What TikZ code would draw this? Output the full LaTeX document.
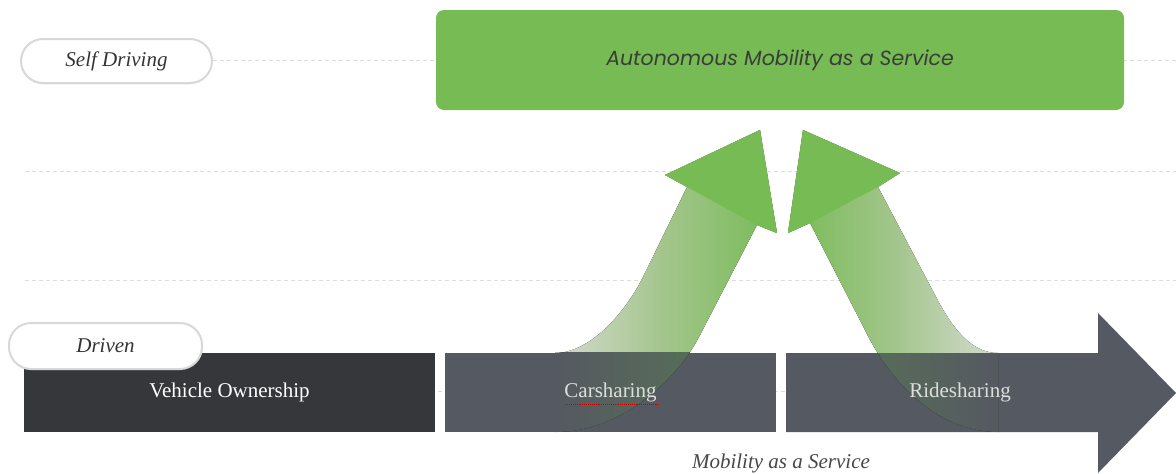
\documentclass[tikz,border=0pt]{standalone}
\usepackage{fontspec}
\setmainfont{Liberation Serif}
\newfontfamily\geofont{Poppins}
\usetikzlibrary{shadows}
\definecolor{ownc}{HTML}{35373B}
\definecolor{sharec}{HTML}{555961}
\definecolor{amgreen}{HTML}{77BB55}
\definecolor{fadegreen}{HTML}{D4DACE}
\definecolor{midgreen}{HTML}{A2C58B}
\definecolor{inbarmid}{HTML}{57695A}
\definecolor{inbargreen}{HTML}{4D7A43}
\definecolor{pillline}{HTML}{D8D8D8}
\definecolor{gridc}{HTML}{DDDDDD}
\definecolor{labc}{HTML}{333333}
\definecolor{amtext}{HTML}{3A3D38}
\definecolor{sharetext}{HTML}{DCDFDC}
\newcommand\armLpath{(555,353) .. controls (590,353) and (625,313) .. (643,277)
  -- (687,187) -- (665,175) -- (760,130) -- (777,233) -- (757,225)
  -- (700,335) .. controls (680,375) and (625,432) .. (555,432) -- cycle}
\newcommand\armRpath{(998,353) .. controls (972,353) and (953,330) .. (935,295)
  -- (878,187) -- (900,173) -- (803,130) -- (788,233) -- (810,223)
  -- (865,330) .. controls (888,378) and (935,432) .. (998,432) -- cycle}
\begin{document}
\begin{tikzpicture}[x=1pt,y=-1pt,
  gridline/.style={draw=gridc, dash pattern=on 4pt off 3pt, line width=0.8pt},
  pill/.style={draw=pillline, line width=2pt, fill=white, rounded corners=22pt,
    minimum width=191pt, minimum height=44pt, inner sep=0pt,
    font=\fontsize{21}{24}\selectfont\itshape, text=labc,
    drop shadow={opacity=0.10, shadow xshift=0pt, shadow yshift=-1.5pt}},
  barbox/.style={minimum height=79pt, inner sep=0pt, draw=none},
  bartext/.style={font=\fontsize{21}{24}\selectfont, inner sep=0pt},
  armleft/.style={left color=fadegreen, right color=amgreen, middle color=midgreen},
  armright/.style={left color=amgreen, right color=fadegreen, middle color=midgreen},
  armleftbar/.style={left color=sharec, right color=inbargreen, middle color=inbarmid},
  armrightbar/.style={left color=inbargreen, right color=sharec, middle color=inbarmid},
  armhead/.style={fill=amgreen}
]
\useasboundingbox (0,0) rectangle (1176,474);
% grid lines
\draw[gridline] (213,60) -- (1176,60);
\draw[gridline] (25,171) -- (1176,171);
\draw[gridline] (25,280) -- (1176,280);
\draw[gridline] (25,391) -- (1098,391);
% top box
\node[fill=amgreen, rounded corners=8pt, minimum width=688pt, minimum height=100pt,
  inner sep=0pt, text=amtext, font=\geofont\itshape\fontsize{20.5}{24}\selectfont]
  (ams) at (780,60) {Autonomous Mobility as a Service};
% bars
\node[barbox, fill=ownc, minimum width=411pt] (vo) at (229.5,392.5) {};
\node[barbox, fill=sharec, minimum width=331pt] (cs) at (610.5,392.5) {};
\fill[sharec] (786,353) -- (1098,353) -- (1098,313) -- (1176,393)
  -- (1098,473) -- (1098,432) -- (786,432) -- cycle;
\coordinate (rs) at (960,392.5);
\coordinate (rsw) at (786,432);
\coordinate (rne) at (1098,353);
% green arrows: shaded body, solid head
\fill[armleft] \armLpath;
\fill[armhead] (687,187) -- (665,175) -- (760,130) -- (777,233) -- (757,225) -- cycle;
\fill[armright] \armRpath;
\fill[armhead] (878,187) -- (900,173) -- (803,130) -- (788,233) -- (810,223) -- cycle;
% the parts of the arrows lying on the bars, dimmed
\begin{scope}
  \clip (cs.south west) rectangle (cs.north east);
  \fill[armleftbar] \armLpath;
\end{scope}
\begin{scope}
  \clip (rsw) rectangle (rne);
  \fill[armrightbar] \armRpath;
\end{scope}
% bar texts
\node[bartext, text=white] (votext) at (vo) {Vehicle Ownership};
\node[bartext, text=sharetext] (cstext) at (cs) {Carsharing};
\draw[red!80!black, densely dotted, line width=0.9pt]
  (cstext.south west) ++(1,2) -- ++(94,0);
\node[bartext, text=sharetext] (rstext) at (rs) {Ridesharing};
% pills
\node[pill] (self) at (116.5,61) {Self Driving};
\node[pill, minimum width=193pt, minimum height=46pt] (driven) at (105.5,346) {Driven};
% bottom label
\node[font=\fontsize{21}{24}\selectfont\itshape, text=labc!90] (maas) at (781,463) {Mobility as a Service};
\end{tikzpicture}
\end{document}
